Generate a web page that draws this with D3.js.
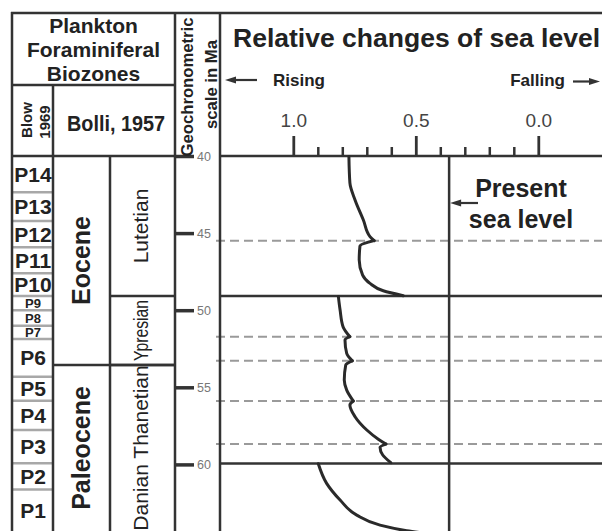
<!DOCTYPE html>
<html>
<head>
<meta charset="utf-8">
<script src="https://cdn.jsdelivr.net/npm/d3@7"></script>
<style>
  body { margin: 0; background: #fff; }
  svg { display: block; }
</style>
</head>
<body>
<div id="chart"></div>
<script>
// ---- data ----
const blowZones = ["P14", "P13", "P12", "P11", "P10", "P9", "P8", "P7", "P6", "P5", "P4", "P3", "P2", "P1"];
const blowTops = [40, 42.35, 44.22, 45.92, 47.61, 49.08, 50.01, 51.01, 51.87, 54.31, 55.87, 57.77, 59.93, 61.62];
const epochNames = ["Eocene", "Paleocene"];
const epochTops = [40, 53.55];
const stageNames = ["Lutetian", "Ypresian", "Danian Thanetian"];
const stageTops = [40, 49.08, 53.55];
const baseAge = 65;

const ageTicks = [40, 45, 50, 55, 60, 65];
const levelMajorTicks = [1.0, 0.5, 0.0];
const levelMinorTicks = [0.9, 0.8, 0.7, 0.6, 0.4, 0.3, 0.2, 0.1];
const presentLevel = 0.364;
const panelBreaks = [49.08, 59.94];
const spikeAges = [45.49, 51.72, 53.28, 55.89, 58.68];

// curve segments (age in Ma, relative level)
const upperAges = [40.05, 41.75, 42.85, 44.15, 45.23, 45.49, 45.84, 46.74, 47.72, 48.26, 48.74, 49.06];
const upperLevels = [0.773, 0.769, 0.748, 0.714, 0.687, 0.670, 0.728, 0.731, 0.717, 0.687, 0.633, 0.551];
const middleAges = [49.12, 49.99, 51.07, 51.72, 51.93, 52.80, 53.28, 53.55, 54.53, 55.18, 55.89, 56.15, 56.91, 57.77, 58.37, 58.68, 58.89, 59.39, 59.89];
const middleLevels = [0.816, 0.809, 0.797, 0.769, 0.789, 0.782, 0.759, 0.786, 0.792, 0.782, 0.755, 0.769, 0.748, 0.700, 0.653, 0.622, 0.646, 0.635, 0.602];
const lowerAges = [59.96, 61.23, 62.31, 63.29, 63.94, 64.30, 64.51];
const lowerLevels = [0.898, 0.864, 0.809, 0.741, 0.646, 0.537, 0.442];

// ---- layout ----
const W = 602, H = 531;
const FONT = "'Liberation Sans', Arial, sans-serif";
const ink = "#333";
const textInk = "#222";
const colLeft = 12, colBlow = 53, colEpoch = 110, colStage = 175, colGeo = 220;
const yTop = 13, yHead = 85;

const svg = d3.select("#chart").append("svg")
    .attr("width", W)
    .attr("height", H)
    .attr("font-family", FONT);

svg.append("rect").attr("width", W).attr("height", H).attr("fill", "#fff");

const y = d3.scaleLinear().domain([40, 65]).range([156, 541.5]);
const x = d3.scaleLinear().domain([1, 0]).range([293.3, 538.3]);
const yAxisTop = y(40);

function hLine(x1, x2, yy, color, w, dash) {
    svg.append("line")
        .attr("x1", x1).attr("x2", x2)
        .attr("y1", yy).attr("y2", yy)
        .attr("stroke", color || ink)
        .attr("stroke-width", w || 2.5)
        .attr("stroke-dasharray", dash || null);
}
function vLine(xx, y1, y2, color, w) {
    svg.append("line")
        .attr("x1", xx).attr("x2", xx)
        .attr("y1", y1).attr("y2", y2)
        .attr("stroke", color || ink)
        .attr("stroke-width", w || 2.5);
}
function vText(str, bx, cy, size, weight, len) {
    const t = svg.append("text")
        .attr("transform", `translate(${bx},${cy}) rotate(-90)`)
        .attr("text-anchor", "middle")
        .attr("font-size", size)
        .attr("font-weight", weight)
        .attr("fill", textInk)
        .text(str);
    if (len) t.attr("textLength", len).attr("lengthAdjust", "spacingAndGlyphs");
    return t;
}
function hText(str, xx, yy, size, weight, anchor, len) {
    const t = svg.append("text")
        .attr("x", xx).attr("y", yy)
        .attr("text-anchor", anchor || "middle")
        .attr("font-size", size)
        .attr("font-weight", weight)
        .attr("fill", textInk)
        .text(str);
    if (len) t.attr("textLength", len).attr("lengthAdjust", "spacingAndGlyphs");
    return t;
}
// horizontal arrow, head at x2
function arrow(x1, x2, yy) {
    const dir = x2 > x1 ? 1 : -1;
    const head = 11, half = 3.5;
    svg.append("line")
        .attr("x1", x1).attr("x2", x2 - dir * head + dir)
        .attr("y1", yy).attr("y2", yy)
        .attr("stroke", ink).attr("stroke-width", 2.2);
    svg.append("path")
        .attr("d", `M${x2},${yy}L${x2 - dir * head},${yy - half}L${x2 - dir * head},${yy + half}Z`)
        .attr("fill", ink);
}

// ---- Blow zones ----
const blowBases = blowTops.slice(1).concat([baseAge]);
blowTops.forEach((t, i) => {
    if (i > 0) hLine(colLeft, colBlow, y(t), "#a8a8a8", 2.5);
    const top = y(t), bot = Math.min(y(blowBases[i]), H);
    const fs = (bot - top) < 18 ? 13 : 21;
    hText(blowZones[i], (colLeft + colBlow) / 2 + 0.5, (top + bot) / 2 + fs * 0.36, fs, "bold");
});

// ---- epochs ----
const epochBases = epochTops.slice(1).concat([baseAge]);
epochTops.forEach((t, i) => {
    if (i > 0) hLine(colBlow, colStage, y(t));
    const mid = (y(t) + Math.min(y(epochBases[i]), H)) / 2;
    vText(epochNames[i], 90, mid, 25, "bold");
});

// ---- stages ----
const stageBases = stageTops.slice(1).concat([baseAge]);
stageTops.forEach((t, i) => {
    if (i > 0) hLine(colEpoch, colStage, y(t));
    const top = y(t), bot = Math.min(y(stageBases[i]), H);
    const mid = (top + bot) / 2;
    const span = bot - top;
    const len = span < 80 ? span - 8 : null;
    vText(stageNames[i], 148, mid, span < 80 ? 20 : 21, "normal", len);
});

// ---- curve panel breaks and dashed markers ----
panelBreaks.forEach(a => hLine(colGeo, W + 2, y(a)));
spikeAges.forEach(a => hLine(216, W + 2, y(a), "#9a9a9a", 2, "9,5"));

// present sea level line
vLine(x(presentLevel), yAxisTop, H + 2, ink, 2.5);

// ---- frame ----
hLine(colLeft - 1, W + 2, yTop);
hLine(colLeft, colStage, yHead);
hLine(colLeft, colStage, yAxisTop);
hLine(colGeo, W + 2, yAxisTop);
vLine(colLeft, yTop - 1, H + 2);
vLine(colBlow, yHead, H + 2);
vLine(colEpoch, yAxisTop, H + 2);
vLine(colStage, yTop, H + 2);
vLine(colGeo, yTop, H + 2);

// ---- sea level curve ----
const line = d3.line()
    .x(d => x(d[1]))
    .y(d => y(d[0]))
    .curve(d3.curveMonotoneY);

function pieces(ages, levels) {
    const out = [[]];
    ages.forEach((a, i) => {
        const p = [a, levels[i]];
        out[out.length - 1].push(p);
        if (spikeAges.includes(a)) out.push([p]);
    });
    return out.filter(p => p.length > 1);
}
[[upperAges, upperLevels], [middleAges, middleLevels], [lowerAges, lowerLevels]].forEach(([a, l]) => {
    pieces(a, l).forEach(pc => {
        svg.append("path")
            .attr("d", line(pc))
            .attr("fill", "none")
            .attr("stroke", "#2a2a2a")
            .attr("stroke-width", 3)
            .attr("stroke-linecap", "round")
            .attr("stroke-linejoin", "round");
    });
});

// ---- level axis (top of curve panel) ----
svg.append("g")
    .attr("transform", `translate(0,${yAxisTop})`)
    .call(d3.axisTop(x).tickValues(levelMinorTicks).tickSize(9).tickFormat(""))
    .call(g => g.select(".domain").remove())
    .call(g => g.selectAll("line").attr("stroke", ink).attr("stroke-width", 2.5));

svg.append("g")
    .attr("transform", `translate(0,${yAxisTop})`)
    .call(d3.axisTop(x).tickValues(levelMajorTicks).tickSize(20).tickPadding(9).tickFormat(d3.format(".1f")))
    .attr("font-family", FONT)
    .attr("font-size", 19)
    .call(g => g.select(".domain").remove())
    .call(g => g.selectAll("line").attr("stroke", ink).attr("stroke-width", 2.8))
    .call(g => g.selectAll("text").attr("fill", "#444"));

// ---- age axis (geochronometric column) ----
svg.append("g")
    .attr("transform", `translate(${colStage},0)`)
    .call(d3.axisRight(y).tickValues(ageTicks).tickSize(19).tickPadding(3))
    .attr("font-family", FONT)
    .attr("font-size", 12.5)
    .call(g => g.select(".domain").remove())
    .call(g => g.selectAll("line").attr("stroke", ink).attr("stroke-width", 3.5))
    .call(g => g.selectAll("text").attr("fill", "#777"));

// ---- header texts ----
const hx = (colLeft + colStage) / 2;
hText("Plankton", hx, 33, 21, "bold");
hText("Foraminiferal", hx, 57, 21, "bold");
hText("Biozones", hx, 81, 21, "bold");
hText("Bolli, 1957", 116, 131, 22, "bold", "middle", 98);
vText("Blow", 31.5, 120, 15, "bold");
vText("1969", 50, 122, 15, "bold");
vText("Geochronometric", 193, 87, 17, "bold", 139);
vText("scale in Ma", 216.5, 84.5, 17, "bold", 89);

hText("Relative changes of sea level", 233, 47, 25, "bold", "start", 367);
hText("Rising", 273, 86, 17, "bold", "start");
arrow(257, 225, 80);
hText("Falling", 565, 86, 17, "bold", "end");
arrow(573, 600, 81.5);

hText("Present", 521, 197, 25, "bold");
hText("sea level", 521, 228, 25, "bold");
arrow(478, x(presentLevel) + 1, 203);
</script>
</body>
</html>
